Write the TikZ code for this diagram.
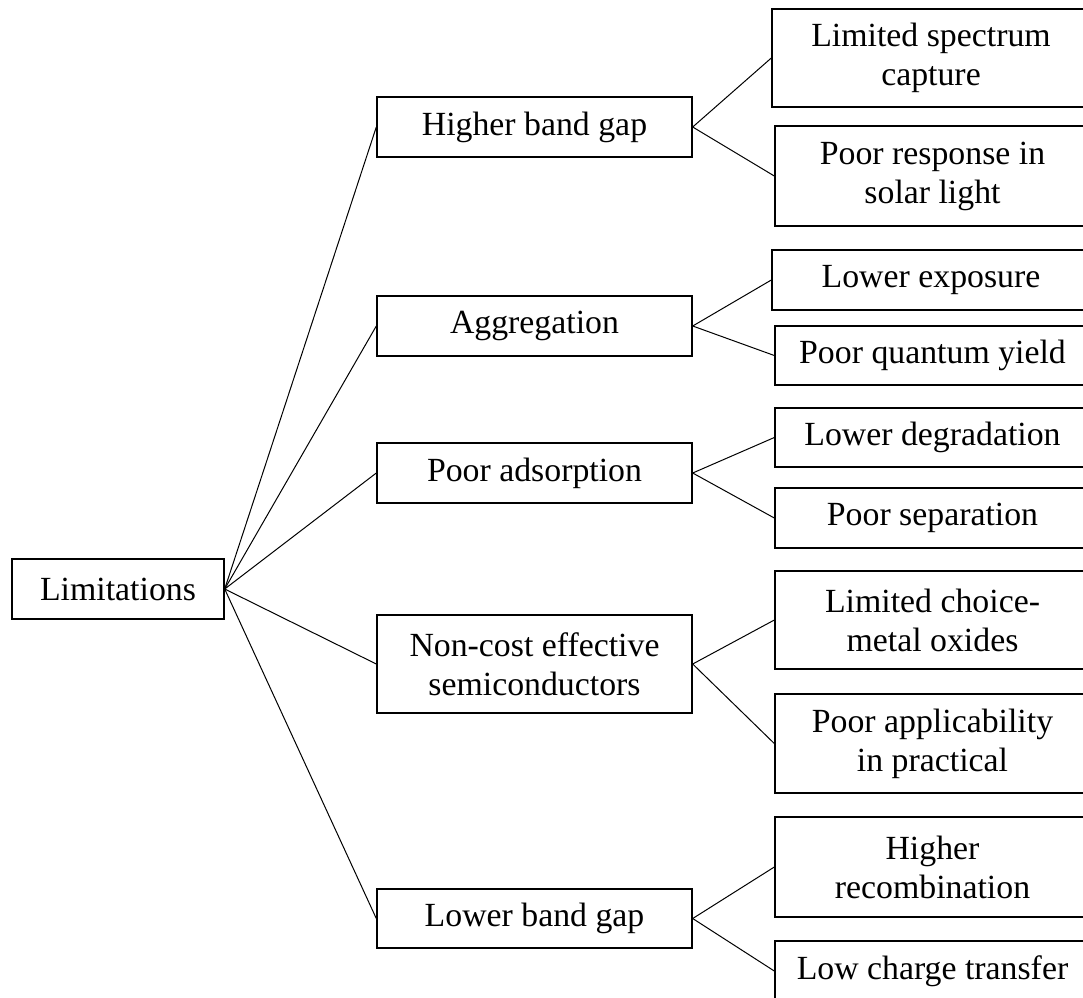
\documentclass[tikz,border=0pt]{standalone}
\usepackage{fontspec}
\setmainfont{Liberation Serif}
\begin{document}
\begin{tikzpicture}[x=1pt,y=-1pt,
  box/.style={draw, line width=1.4pt, inner sep=0pt, align=center,
    font=\fontsize{33.8}{39}\selectfont},
  midbox/.style={box, minimum width=315pt},
  rbox/.style={box, minimum width=315pt},
  link/.style={line width=1pt}]
\useasboundingbox (0,0) rectangle (1083,997);
\clip (0,0) rectangle (1083,997);
% root
\node[box, minimum width=212pt, minimum height=60pt] (lim) at (118,589) {Limitations};
% middle
\node[midbox, minimum height=60pt] (hbg) at (534.5,127) {Higher band gap};
\node[midbox, minimum height=60pt] (agg) at (534.5,326) {Aggregation};
\node[midbox, minimum height=60pt] (pad) at (534.5,473) {Poor adsorption};
\node[midbox, minimum height=98pt] (ncs) at (534.5,664) {Non-cost effective\\semiconductors};
\node[midbox, minimum height=59pt] (lbg) at (534.5,918.5) {Lower band gap};
% right
\node[rbox, minimum width=318pt, minimum height=98pt] (lsc) at (931,58) {Limited spectrum\\capture};
\node[rbox, minimum height=100pt] (prs) at (932.5,176) {Poor response in\\solar light};
\node[rbox, minimum width=318pt, minimum height=60pt] (lex) at (931,280) {Lower exposure};
\node[rbox, minimum height=59pt] (pqy) at (932.5,355.5) {Poor quantum yield};
\node[rbox, minimum height=59pt] (ldg) at (932.5,437.5) {Lower degradation};
\node[rbox, minimum height=60pt] (psp) at (932.5,518) {Poor separation};
\node[rbox, minimum height=98pt] (lcm) at (932.5,620) {Limited choice-\\metal oxides};
\node[rbox, minimum height=99pt] (pap) at (932.5,743.5) {Poor applicability\\in practical};
\node[rbox, minimum height=100pt] (hrc) at (932.5,867) {Higher\\recombination};
\node[rbox, minimum height=60pt] (lct) at (932.5,971) {Low charge transfer};
% connectors
\foreach \m in {hbg,agg,pad,ncs,lbg} \draw[link] (lim.east) -- (\m.west);
\draw[link] (hbg.east) -- (lsc.west);
\draw[link] (hbg.east) -- (prs.west);
\draw[link] (agg.east) -- (lex.west);
\draw[link] (agg.east) -- (pqy.west);
\draw[link] (pad.east) -- (ldg.west);
\draw[link] (pad.east) -- (psp.west);
\draw[link] (ncs.east) -- (lcm.west);
\draw[link] (ncs.east) -- (pap.west);
\draw[link] (lbg.east) -- (hrc.west);
\draw[link] (lbg.east) -- (lct.west);
\end{tikzpicture}
\end{document}
